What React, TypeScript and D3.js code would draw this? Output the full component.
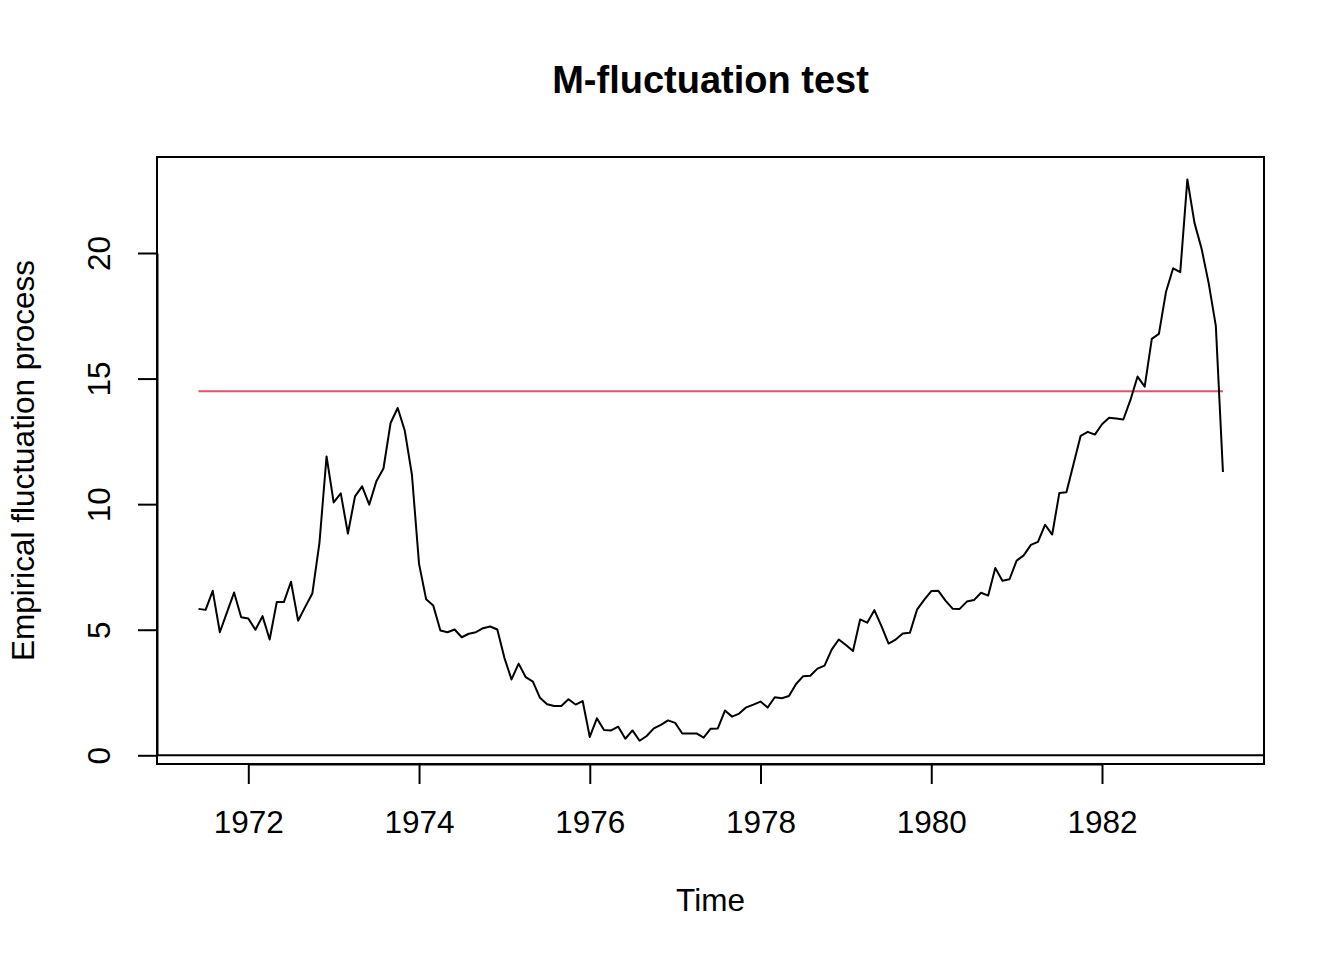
import { useRef, useEffect } from "react";
import * as d3 from "d3";

// monthly observations, starting June 1971
const startYear = 1971 + 5 / 12
const fluctuation = [
    5.83, 5.79, 6.55, 4.90, 5.69, 6.48, 5.50, 5.45, 5.00, 5.54, 4.61, 6.10,
    6.10, 6.91, 5.36, 5.91, 6.44, 8.46, 11.90, 10.07, 10.43, 8.83, 10.31, 10.71,
    9.98, 10.91, 11.42, 13.23, 13.83, 12.92, 11.17, 7.62, 6.21, 5.96, 4.97, 4.90,
    5.01, 4.70, 4.84, 4.90, 5.06, 5.13, 5.01, 3.88, 3.02, 3.65, 3.11, 2.93,
    2.29, 2.03, 1.96, 1.96, 2.23, 2.02, 2.16, 0.73, 1.47, 1.01, 0.99, 1.14,
    0.66, 0.99, 0.58, 0.77, 1.07, 1.21, 1.39, 1.29, 0.87, 0.87, 0.87, 0.70,
    1.06, 1.07, 1.78, 1.54, 1.66, 1.91, 2.02, 2.14, 1.90, 2.31, 2.27, 2.36,
    2.84, 3.15, 3.17, 3.45, 3.57, 4.21, 4.61, 4.39, 4.15, 5.41, 5.28, 5.78,
    5.14, 4.45, 4.61, 4.85, 4.88, 5.80, 6.19, 6.54, 6.55, 6.16, 5.84, 5.83,
    6.12, 6.18, 6.47, 6.36, 7.46, 6.95, 7.01, 7.75, 7.96, 8.38, 8.50, 9.18,
    8.79, 10.44, 10.47, 11.60, 12.72, 12.88, 12.77, 13.18, 13.44, 13.41, 13.37, 14.15,
    15.08, 14.68, 16.58, 16.78, 18.46, 19.39, 19.24, 22.93, 21.20, 20.17, 18.79, 17.10,
    11.28,
]
const boundary = 14.5
const xTicks = [1972, 1974, 1976, 1978, 1980, 1982]
const yTicks = [0, 5, 10, 15, 20]

const App = () => {
    const svgRef = useRef(null)

    const W = 1344
    const H = 960

    useEffect(() => {
        const svg = d3.select(svgRef.current)
        svg.selectAll("*").remove()

        const box = { left: 157, right: 1264, top: 157, bottom: 764 }
        const font = "'Liberation Sans', Arimo, Helvetica, Arial, sans-serif"
        const fs = 31.5

        const data = fluctuation.map((v, i) => ({ t: startYear + i / 12, v }))

        const xScale = d3.scaleLinear()
            .domain([1972, 1982])
            .range([248.3, 1102])
        const yScale = d3.scaleLinear()
            .domain([0, 20])
            .range([755.3, 253])

        // plot box
        svg.append("rect")
            .attr("x", box.left).attr("y", box.top)
            .attr("width", box.right - box.left)
            .attr("height", box.bottom - box.top)
            .attr("fill", "none")
            .attr("stroke", "black")
            .attr("stroke-width", 2)

        // x axis
        const xAxis = svg.append("g")
            .attr("transform", `translate(0, ${box.bottom})`)
            .call(d3.axisBottom(xScale)
                .tickValues(xTicks)
                .tickFormat(d3.format("d"))
                .tickSizeInner(20)
                .tickSizeOuter(0)
                .tickPadding(27))
        xAxis.select(".domain").attr("stroke-width", 2)
        xAxis.selectAll(".tick line").attr("stroke-width", 2)
        xAxis.selectAll(".tick text")
            .attr("font-size", fs)
            .attr("font-family", font)
            .attr("fill", "black")

        // y axis with rotated labels
        const yAxis = svg.append("g")
            .attr("transform", `translate(${box.left}, 0)`)
            .call(d3.axisLeft(yScale)
                .tickValues(yTicks)
                .tickSizeInner(19)
                .tickSizeOuter(0))
        yAxis.select(".domain").attr("stroke-width", 2)
        yAxis.selectAll(".tick line").attr("stroke-width", 2)
        yAxis.selectAll(".tick text")
            .attr("font-size", fs)
            .attr("font-family", font)
            .attr("fill", "black")
            .attr("x", null).attr("dy", null)
            .attr("text-anchor", "middle")
            .attr("transform", `translate(${110 - box.left}, 0) rotate(-90)`)

        // zero reference line
        svg.append("line")
            .attr("x1", box.left).attr("x2", box.right)
            .attr("y1", yScale(0)).attr("y2", yScale(0))
            .attr("stroke", "black")
            .attr("stroke-width", 2)

        // boundary
        svg.append("line")
            .attr("x1", xScale(data[0].t)).attr("x2", xScale(data[data.length - 1].t))
            .attr("y1", yScale(boundary)).attr("y2", yScale(boundary))
            .attr("stroke", "#DF536B")
            .attr("stroke-width", 2)

        const lineGenerator = d3.line()
            .x(d => xScale(d.t))
            .y(d => yScale(d.v))

        svg.append("path")
            .datum(data)
            .attr("d", lineGenerator)
            .attr("fill", "none")
            .attr("stroke", "black")
            .attr("stroke-width", 2)
            .attr("stroke-linejoin", "round")

        // titles
        svg.append("text")
            .attr("x", (box.left + box.right) / 2).attr("y", 93)
            .attr("text-anchor", "middle")
            .attr("font-family", font)
            .attr("font-weight", "bold")
            .attr("font-size", 38)
            .text("M-fluctuation test")
        svg.append("text")
            .attr("x", (box.left + box.right) / 2).attr("y", 911)
            .attr("text-anchor", "middle")
            .attr("font-family", font)
            .attr("font-size", fs)
            .text("Time")
        svg.append("text")
            .attr("transform", `translate(34, ${(box.top + box.bottom) / 2}) rotate(-90)`)
            .attr("text-anchor", "middle")
            .attr("font-family", font)
            .attr("font-size", fs)
            .text("Empirical fluctuation process")
    }, [])

    return (
        <svg ref={svgRef} width={W} height={H}
            style={{ position: "absolute", left: 0, top: 0, background: "white" }}></svg>
    )
}

export default App;
